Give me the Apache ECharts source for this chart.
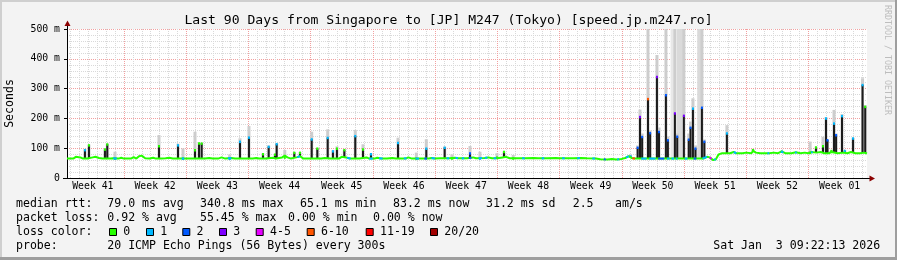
<!DOCTYPE html>
<html><head><meta charset="utf-8">
<script src="https://cdn.jsdelivr.net/npm/echarts@6/dist/echarts.min.js"></script>
<style>html,body{margin:0;padding:0;background:#f3f3f3}#c{width:897px;height:260px}</style>
</head><body><div id="c"></div>
<script>
// ---------- data (x = days since start of the 90-day window, y = ms) ----------
const yTicks = [0, 100, 200, 300, 400, 500];
const weekLabels = ['Week 41','Week 42','Week 43','Week 44','Week 45','Week 46','Week 47','Week 48','Week 49','Week 50','Week 51','Week 52','Week 01'];

// median rtt baseline
const medianBase = [
 [0,66],[0.7,66],[1.0,72],[1.2,76],[1.5,70],[1.8,66],[2.3,66],[2.9,70],[3.2,72],[3.6,68],[4.0,66],[4.9,66],[5.2,67],[5.8,66],[6.1,69],[6.4,66],
 [7.2,66],[7.5,71],[7.8,66],[8.1,74],[8.4,76],[8.8,67],[9.3,66],[9.7,69],[10.0,66],[10.6,66],[11.1,67],[11.5,69],[11.9,66],[12.8,66],[13.4,66],
 [14.0,66],[14.6,66],[15.5,66],[16.0,68],[16.4,66],[17.0,66],[17.4,70],[17.8,66],[18.5,68],[18.9,66],[19.8,66],[20.9,66],
 [21.3,68],[21.6,66],[22.4,66],[23.2,69],[23.5,66],[24.2,70],[24.5,76],[24.8,70],[25.2,66],[25.9,71],[26.2,74],[26.6,66],[27.0,66],
 [27.8,66],[28.6,66],[29.0,68],[29.6,66],[30.6,66],[30.9,72],[31.4,70],[31.8,66],[32.9,66],[33.7,70],[34.0,66],[34.6,66],[34.9,69],
 [35.3,66],[36.0,66],[36.6,68],[37.0,66],[38.1,66],[38.4,70],[38.8,66],[39.8,66],[40.7,66],[41.0,68],[41.3,66],
 [42.0,67],[43.0,67],[43.6,69],[44.0,67],[45.0,67],[45.7,70],[46.0,67],[47.0,68],[47.4,70],[47.8,67],[48.4,67],
 [49.0,70],[49.4,72],[49.8,67],[50.5,67],[51.5,67],[52.5,68],[53.0,67],[54.0,67],[55.0,68],[55.4,67],
 [56.0,67],[57.0,67],[57.8,68],[58.5,67],[59.5,66],[60.0,64],[60.8,63],[61.3,65],[61.8,63],[62.4,65],
 [62.8,68],[63.2,74],[63.5,68],[63.9,66],[64.9,66],[65.9,66],[66.9,66],[67.8,66],[68.8,66],[69.7,66],
 [70.6,66],[71.6,66],[72.0,72],[72.3,70],[72.7,61],[73.0,64],[73.3,80],[73.7,84],[74.0,84],[74.6,84],[75.0,88],[75.3,84],[76.0,84],[76.4,86],
 [77.0,84],[77.2,92],[77.5,86],[78.0,84],[79.0,84],[79.5,86],[80.0,84],[80.4,90],[80.8,84],[81.5,84],[82.0,87],[82.5,84],[83.0,86],[83.4,84],
 [83.8,88],[84.3,86],[84.8,88],[85.2,84],[85.7,84],[86.0,88],[86.7,84],[87.3,86],[87.8,84],[88.2,88],[88.7,84],[89.2,84],[89.7,86],[90,83]
];

// spikes: [day, median peak ms, smoke top ms, loss index of tip]
const spikes = [
 [2.02,95,98,1],[2.47,111,113,0],[4.27,97,100,0],[4.53,114,116,0],[5.40,66,89,1],[10.35,108,145,0],
 [12.49,111,116,1],[13.05,66,100,1],[14.40,95,156,0],[14.85,117,119,0],[15.15,117,119,0],[18.30,66,80,1],
 [19.46,123,134,1],[20.47,137,175,1],[22.05,81,84,0],[22.69,106,110,1],[23.40,80,82,0],[23.59,115,118,1],
 [24.50,70,95,0],[25.57,86,88,0],[26.21,86,88,0],[27.53,131,156,1],[28.16,100,102,0],[29.33,136,164,1],
 [29.92,91,95,1],[30.37,100,107,0],[31.20,95,97,0],[32.43,142,162,1],[33.30,97,114,0],[34.20,81,84,1],
 [37.24,119,136,1],[39.30,66,86,0],[40.42,100,131,1],[42.49,103,106,1],[43.30,67,80,0],[45.34,84,108,2],
 [46.46,67,89,1],[48.37,70,84,0],[49.16,89,90,0],[50.20,67,78,0],
 [63.40,74,80,1],[64.20,103,110,2],[64.46,206,230,3],[64.70,139,150,2],[65.36,266,500,5],[65.60,152,160,2],
 [66.37,340,413,3],[66.60,156,170,2],[67.38,279,500,2],[67.60,128,140,2],[68.39,218,500,3],[68.65,140,150,2],
 [69.40,210,500,3],[69.95,130,150,2],[70.15,170,190,2],[70.42,234,268,1],[70.70,100,110,2],[71.43,237,500,2],
 [71.70,123,130,2],[74.24,151,178,1],
 [77.17,95,98,0],[80.43,90,92,1],[83.60,86,123,0],[84.26,104,106,0],[85.05,108,139,0],[85.39,201,205,1],
 [85.55,128,130,2],[86.00,92,94,0],[86.29,184,229,1],[86.52,145,150,2],[87.19,209,215,1],[87.50,92,94,1],
 [88.43,134,136,1],[89.50,313,335,1],[89.80,240,245,0]
];

// smoke columns reaching the top: [day from, day to, shade]
const smokeBands = [[67.9,68.5,1],[68.6,69.45,0],[70.9,71.55,0]];

// loss-coloured stretches of the median line: [day from, day to, loss index]
const lossSegs = [
 [5.2,5.6,1],[12.9,13.2,1],[18.1,18.5,1],[25.9,26.2,1],[31.5,31.9,1],[34.0,34.4,1],[35.1,35.5,1],[37.9,38.2,1],
 [39.2,39.6,1],[40.2,40.5,2],[41.0,41.4,1],[42.7,43.0,1],[43.7,44.0,1],[44.4,44.7,1],[45.2,45.5,2],[46.3,46.7,1],
 [47.0,47.3,1],[48.0,48.3,1],[51.2,51.5,1],[53.4,53.7,1],[55.7,56.0,1],[57.4,57.7,1],[59.1,59.4,1],[60.4,60.6,2],
 [61.9,62.1,1],[62.9,63.2,1],[63.6,63.9,5],[64.6,65.2,1],[65.5,66.2,1],[66.5,67.2,2],[67.5,67.8,1],[68.0,68.3,1],
 [68.5,68.7,1],[69.5,69.8,1],[70.5,70.8,2],[71.5,72.0,1],[72.3,72.5,4],[72.8,73.0,1],[75.0,75.3,1],[78.8,79.0,1],
 [80.3,80.6,1],[81.9,82.1,1],[83.7,83.9,1]
];

const lossLabels = ['0','1','2','3','4-5','6-10','11-19','20/20'];
const lossColors = ['#26ff00','#00b8ff','#0059ff','#7e00ff','#e600ff','#ff5500','#ff0000','#a10000'];

const titleText = 'Last 90 Days from Singapore to [JP] M247 (Tokyo) [speed.jp.m247.ro]';
const legendRtt = ['median rtt:','79.0 ms avg','340.8 ms max','65.1 ms min','83.2 ms now','31.2 ms sd','2.5','am/s'];
const legendLoss = ['packet loss:','0.92 % avg','55.45 % max','0.00 % min','0.00 % now'];
const probeText = ['probe:','20 ICMP Echo Pings (56 Bytes) every 300s'];
const dateText = 'Sat Jan  3 09:22:13 2026';

// ---------- layout / helpers ----------
const FONT = '"DejaVu Sans Mono", monospace';
const LF = '11.55px ' + FONT;
const PL = 67, PT = 29, PW = 800, PB = 178.3, PH = PB - PT;
const pxDay = PW / 90;

function baseAt(d) {
  for (let i = 1; i < medianBase.length; i++) {
    if (medianBase[i][0] >= d) {
      const a = medianBase[i-1], b = medianBase[i];
      const t = (d - a[0]) / (b[0] - a[0]);
      return a[1] + t * (b[1] - a[1]);
    }
  }
  return medianBase[medianBase.length-1][1];
}

const hiddenY = (gi) => ({gridIndex: gi, type:'value', min:0, max:1, show:false});
const textEl = (txt, x, y, extra) => Object.assign({
  type:'text', silent:true,
  style: Object.assign({text: txt, x: x, y: y, font: LF, fill:'#000', textAlign:'left', textVerticalAlign:'middle', align:'left', verticalAlign:'middle'}, extra || {})
});

const graphics = [];
// borders
graphics.push({type:'rect', silent:true, shape:{x:0,y:0,width:897,height:2}, style:{fill:'#cfcfcf'}});
graphics.push({type:'rect', silent:true, shape:{x:0,y:0,width:2,height:260}, style:{fill:'#cfcfcf'}});
graphics.push({type:'rect', silent:true, shape:{x:0,y:257,width:897,height:3}, style:{fill:'#9e9e9e'}});
graphics.push({type:'rect', silent:true, shape:{x:895,y:0,width:2,height:260}, style:{fill:'#9e9e9e'}});
// axis extensions + arrows
graphics.push({type:'line', silent:true, z:10, shape:{x1:PL+0.5,y1:25,x2:PL+0.5,y2:PT}, style:{stroke:'#000',lineWidth:1}});
graphics.push({type:'polygon', silent:true, z:10, shape:{points:[[PL+0.5,20.5],[PL-2.5,26],[PL+3.5,26]]}, style:{fill:'#8b0000'}});
graphics.push({type:'line', silent:true, z:10, shape:{x1:63,y1:178.5,x2:PL,y2:178.5}, style:{stroke:'#000',lineWidth:1}});
graphics.push({type:'line', silent:true, z:10, shape:{x1:PL+PW,y1:178.5,x2:870,y2:178.5}, style:{stroke:'#000',lineWidth:1}});
graphics.push({type:'polygon', silent:true, z:10, shape:{points:[[875,178.5],[869.5,175.5],[869.5,181.5]]}, style:{fill:'#8b0000'}});
// y unit
graphics.push({type:'text', silent:true, x:10, y:103.5, rotation:Math.PI/2,
  style:{text:'Seconds', x:0, y:0, font:LF, fill:'#000', textAlign:'center', textVerticalAlign:'middle', align:'center', verticalAlign:'middle'}});
// watermark
graphics.push({type:'text', silent:true, x:887, y:5, rotation:-Math.PI/2,
  style:{text:'RRDTOOL / TOBI OETIKER', x:0, y:0, font:'8.3px ' + FONT, fill:'#bdbdbd', textAlign:'left', textVerticalAlign:'middle', align:'left', verticalAlign:'middle'}});
// legend lines
const rttX = [16,107.3,200,300,393,486,572.7,615];
legendRtt.forEach((t,i)=>graphics.push(textEl(t, rttX[i], 204.3)));
const lossX = [16,107.3,200,288,373];
legendLoss.forEach((t,i)=>graphics.push(textEl(t, lossX[i], 218.3)));
graphics.push(textEl('loss color:', 16, 232.3));
const boxX = [109,146,182.3,219,255.7,306.7,365.7,430];
lossLabels.forEach((t,i)=>{
  graphics.push({type:'rect', silent:true, shape:{x:boxX[i]+0.5,y:228.5,width:7,height:7}, style:{fill:lossColors[i], stroke:'#000', lineWidth:1}});
  graphics.push(textEl(t, boxX[i]+14.3, 232.3));
});
graphics.push(textEl(probeText[0], 16, 246.3));
graphics.push(textEl(probeText[1], 107.3, 246.3));
graphics.push(textEl(dateText, 713.3, 246.3));

const chart = echarts.init(document.getElementById('c'), null, {renderer:'canvas'});
chart.setOption({
  animation: false,
  backgroundColor: '#f3f3f3',
  title: {text: titleText, left:'center', top: 9,
    textStyle:{fontFamily: FONT, fontSize: 13.1, fontWeight:'normal', color:'#000'}},
  grid: [
    {left: PL, top: PT, width: PW, height: PH, show: true, backgroundColor:'#fff', borderWidth: 0, z: -1},
    {left: PL + 0.41*pxDay, top: PT, width: 89*pxDay, height: PH, show:false},
    {left: PL + 6.41*pxDay, top: PT, width: 77*pxDay, height: PH, show:false},
    {left: PL - 0.59*pxDay, top: PT, width: 91*pxDay, height: PH, show:false}
  ],
  xAxis: [
    {gridIndex:0, type:'value', min:0, max:90, axisLine:{show:true, lineStyle:{color:'#000', width:1}},
     axisTick:{show:false}, axisLabel:{show:false}, splitLine:{show:false}},
    {gridIndex:1, type:'value', min:0, max:89, interval:1, axisLine:{show:false}, axisTick:{show:false}, axisLabel:{show:false},
     splitLine:{show:true, lineStyle:{color:'#d9d9d9', width:1, type:[1,1]}}},
    {gridIndex:2, type:'value', min:0, max:11, interval:1, axisLine:{show:false}, axisTick:{show:false}, axisLabel:{show:false},
     splitLine:{show:true, lineStyle:{color:'#f2a0a0', width:1, type:[1,1]}}},
    {gridIndex:3, type:'category', data: weekLabels, boundaryGap:true, axisLine:{show:false}, axisTick:{show:false},
     splitLine:{show:false},
     axisLabel:{show:true, interval:0, margin:3, fontFamily: FONT, fontSize: 9.8, color:'#000'}}
  ],
  yAxis: [
    {gridIndex:0, type:'value', min: yTicks[0], max: yTicks[yTicks.length-1], interval: 100,
     axisLine:{show:true, lineStyle:{color:'#000', width:1}},
     axisTick:{show:true, length:3, lineStyle:{color:'#000'}},
     axisLabel:{margin:7, fontFamily: FONT, fontSize: 9.8, color:'#000', formatter: v => v === 0 ? '0' : v + ' m'},
     splitLine:{show:true, lineStyle:{color:'#f2a0a0', width:1, type:[1,1]}},
     minorTick:{show:false, splitNumber:5},
     minorSplitLine:{show:true, lineStyle:{color:'#d9d9d9', width:1, type:[1,1]}}},
    hiddenY(1), hiddenY(2), hiddenY(3)
  ],
  series: [
    {type:'custom', name:'smokeBands', xAxisIndex:0, yAxisIndex:0, z:2, silent:true,
     data: smokeBands, encode:{x:[0,1]},
     renderItem: (p, api) => {
       const d0 = api.value(0), d1 = api.value(1), sh = api.value(2);
       const a = api.coord([d0, 500]), b = api.coord([d1, baseAt(d0)]);
       return {type:'rect', shape:{x:a[0], y:a[1], width:b[0]-a[0], height:b[1]-a[1]},
               style:{fill: sh ? '#e8e8e8' : '#dadada'}};
     }},
    {type:'custom', name:'smoke', xAxisIndex:0, yAxisIndex:0, z:3, silent:true,
     data: spikes.map(s => [s[0], s[2]]), encode:{x:0, y:1},
     renderItem: (p, api) => {
       const d = api.value(0), top = api.value(1);
       const a = api.coord([d, baseAt(d)]), b = api.coord([d, top]);
       return {type:'rect', shape:{x:a[0]-1.5, y:b[1], width:3, height:a[1]-b[1]}, style:{fill:'#cdcdcd'}};
     }},
    {type:'custom', name:'spikes', xAxisIndex:0, yAxisIndex:0, z:4, silent:true,
     data: spikes.map(s => [s[0], s[1], s[3]]), encode:{x:0, y:1},
     renderItem: (p, api) => {
       const d = api.value(0), pk = api.value(1), li = api.value(2);
       const a = api.coord([d, baseAt(d)]), b = api.coord([d, pk]);
       return {type:'group', children:[
         {type:'rect', shape:{x:a[0]-1, y:b[1], width:2, height:Math.max(0, a[1]-b[1])}, style:{fill:'#1c1c1c'}},
         {type:'rect', shape:{x:a[0]-1, y:b[1]-1, width:2, height:2.5}, style:{fill: lossColors[li]}}
       ]};
     }},
    {type:'line', name:'median', xAxisIndex:0, yAxisIndex:0, z:5, silent:true, data: medianBase,
     showSymbol:false, symbol:'none', lineStyle:{color: lossColors[0], width:2}},
    {type:'custom', name:'loss', xAxisIndex:0, yAxisIndex:0, z:6, silent:true,
     data: lossSegs, encode:{x:[0,1]},
     renderItem: (p, api) => {
       const d0 = api.value(0), d1 = api.value(1), li = api.value(2);
       const a = api.coord([d0, baseAt(d0)]), b = api.coord([d1, baseAt(d1)]);
       return {type:'line', shape:{x1:a[0], y1:a[1], x2:b[0], y2:b[1]}, style:{stroke: lossColors[li], lineWidth:2}};
     }}
  ],
  graphic: graphics
});
</script></body></html>
